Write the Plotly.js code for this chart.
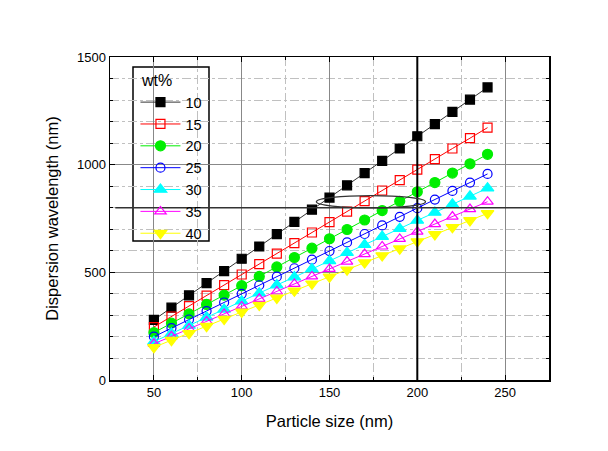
<!DOCTYPE html>
<html><head><meta charset="utf-8">
<script src="https://cdn.plot.ly/plotly-3.0.1.min.js"></script>
<style>html,body{margin:0;padding:0;background:#fff}#chart{width:608px;height:451px}</style>
</head><body><div id="chart"></div>
<script>
const particleSize = [50,60,70,80,90,100,110,120,130,140,150,160,170,180,190,200,210,220,230,240];
const seriesNames = ["10","15","20","25","30","35","40"];
const wt10 = [279,336,393,450,506,563,620,677,734,791,847,904,961,1018,1075,1132,1188,1245,1302,1359];
const wt15 = [246,295,343,392,441,490,538,587,636,685,733,782,831,880,928,977,1026,1075,1123,1172];
const wt20 = [220,264,307,351,394,438,481,525,569,612,656,699,743,787,830,874,917,961,1004,1048];
const wt25 = [201,241,281,320,360,400,440,480,519,559,599,639,678,718,758,798,838,878,917,957];
const wt30 = [178,216,253,291,328,366,403,441,478,516,553,591,628,666,703,741,778,816,853,891];
const wt35 = [168,203,238,272,307,342,377,411,446,481,516,550,585,620,655,689,724,759,794,828];
const wt40 = [152,185,217,250,283,316,348,381,414,447,479,512,545,578,610,643,676,709,741,774];
const xTickVals = [50,100,150,200,250];
const yTickVals = [0,500,1000,1500];

const values = [wt10,wt15,wt20,wt25,wt30,wt35,wt40];
const colors = ["#000000","#ff0000","#00ee00","#0000ff","#00ffff","#ff00ff","#ffff00"];
const symbols = ["square","square-open","circle","circle-open","triangle-up","triangle-up-open","triangle-down"];
const sizes = [9,9,10,9,11,10,11];

const traces = values.map((v,i)=>({
  x: particleSize, y: v, name: seriesNames[i], type:'scatter', mode:'lines+markers',
  line:{color: i===0 ? '#333333' : colors[i], width:1},
  marker:{symbol:symbols[i], size:sizes[i], color:colors[i], line:{color:colors[i], width:1.2}}
}));

const layout = {
  width:608, height:451,
  margin:{l:110, r:59, t:57, b:71},
  paper_bgcolor:'#fff', plot_bgcolor:'#fff',
  font:{family:'"Liberation Sans", Arial, sans-serif', color:'#000', size:13},
  showlegend:true,
  legend:{x:0.058, y:0.974, xanchor:'left', yanchor:'top', borderwidth:0,
    bgcolor:'rgba(0,0,0,0)', font:{size:14.5}, itemwidth:40, tracegroupgap:0,
    title:{text:'\u00a0wt%', font:{size:16}}},
  xaxis:{range:[25,275], tickvals:xTickVals, ticktext:xTickVals.map(String), ticks:'inside', ticklen:5,
    tickcolor:'#000', showline:true, linecolor:'#000', linewidth:1.5, mirror:'ticks',
    showgrid:true, gridcolor:'#888', gridwidth:1, zeroline:false,
    minor:{dtick:25, tick0:0, showgrid:true, gridcolor:'#c0c0c0', griddash:'dashdot', ticks:'inside', ticklen:3, tickcolor:'#000'},
    title:{text:'Particle size (nm)', font:{size:16.5}, standoff:16}},
  yaxis:{range:[0,1500], tickvals:yTickVals, ticktext:yTickVals.map(String), ticks:'inside', ticklen:5,
    tickcolor:'#000', showline:true, linecolor:'#000', linewidth:1.5, mirror:'ticks',
    showgrid:true, gridcolor:'#888', gridwidth:1, zeroline:false,
    minor:{dtick:100, tick0:0, showgrid:true, gridcolor:'#c0c0c0', griddash:'dashdot', ticks:'inside', ticklen:3, tickcolor:'#000'},
    title:{text:'Dispersion wavelength (nm)', font:{size:16.5}, standoff:14}},
  shapes:[
    {type:'rect', xref:'paper', yref:'paper', x0:0.0524, x1:0.2255, y0:0.430, y1:0.969, layer:'below',
      fillcolor:'#fff', line:{color:'#000', width:1.5}},
    {type:'line', xref:'x', yref:'y', x0:200, x1:200, y0:0, y1:1500, line:{color:'#000', width:2}},
    {type:'line', xref:'x', yref:'y', x0:28, x1:275, y0:800, y1:800, line:{color:'#333', width:1.5}},
    {type:'circle', xref:'x', yref:'y', x0:142.5, x1:204.7, y0:799, y1:856, line:{color:'#333', width:1.2}}
  ]
};
Plotly.newPlot('chart', traces, layout, {displayModeBar:false, staticPlot:true});
</script></body></html>
